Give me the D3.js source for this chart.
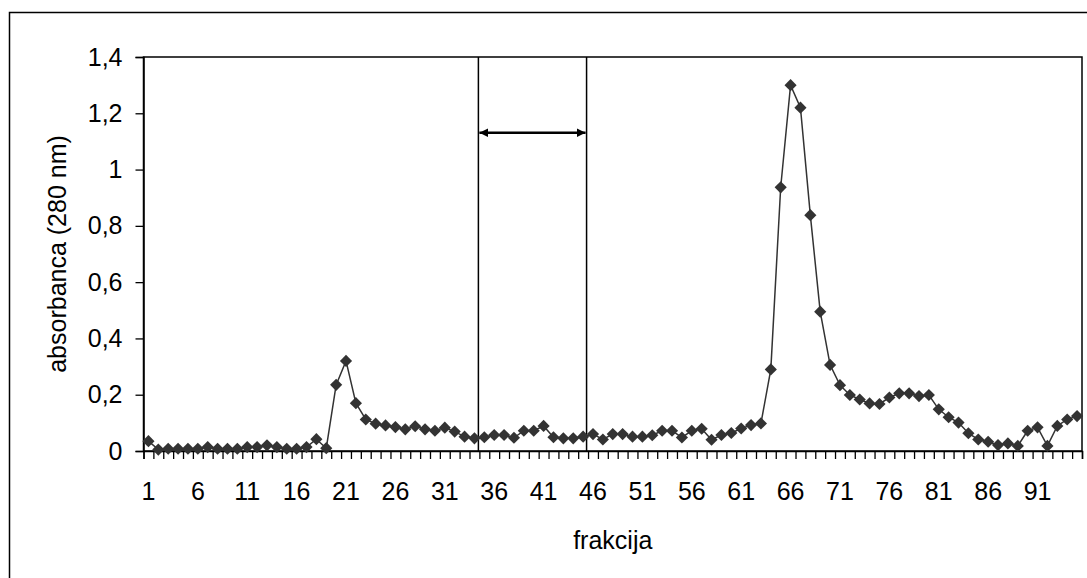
<!DOCTYPE html>
<html>
<head>
<meta charset="utf-8">
<script src="https://cdn.jsdelivr.net/npm/d3@7"></script>
<style>
  body { margin: 0; background: #fff; }
  svg { font-family: "Liberation Sans", Arial, sans-serif; }
</style>
</head>
<body>
<div id="main"><svg width="1087" height="578"></svg></div>
<script>
// Fractions (categories) and absorbance
var fractions = [1,2,3,4,5,6,7,8,9,10,11,12,13,14,15,16,17,18,19,20,
    21,22,23,24,25,26,27,28,29,30,31,32,33,34,35,36,37,38,39,40,
    41,42,43,44,45,46,47,48,49,50,51,52,53,54,55,56,57,58,59,60,
    61,62,63,64,65,66,67,68,69,70,71,72,73,74,75,76,77,78,79,80,
    81,82,83,84,85,86,87,88,89,90,91,92,93,94,95];
var absorbance = [0.035,0.005,0.008,0.008,0.008,0.008,0.014,0.008,0.008,0.008,
    0.014,0.014,0.02,0.014,0.008,0.008,0.014,0.042,0.01,0.235,
    0.32,0.17,0.112,0.097,0.091,0.085,0.077,0.088,0.077,0.072,
    0.083,0.069,0.051,0.045,0.049,0.057,0.057,0.047,0.072,0.072,
    0.089,0.049,0.045,0.045,0.051,0.06,0.041,0.06,0.06,0.051,
    0.051,0.056,0.072,0.072,0.048,0.072,0.079,0.04,0.057,0.064,
    0.08,0.092,0.098,0.29,0.937,1.3,1.22,0.838,0.495,0.306,
    0.234,0.199,0.183,0.169,0.167,0.19,0.205,0.205,0.195,0.199,
    0.148,0.12,0.101,0.063,0.041,0.033,0.021,0.027,0.018,0.072,
    0.084,0.018,0.089,0.112,0.124];
var xTickLabels = [1,6,11,16,21,26,31,36,41,46,51,56,61,66,71,76,81,86,91];
var yTicks = [0,0.2,0.4,0.6,0.8,1,1.2,1.4];
// collected fractions marked by the two vertical lines and the arrow
var markerFractions = [34.4, 45.35];
var arrowLevel = 1.131;

var svg = d3.select("#main").select("svg");
var svgWidth = +svg.attr("width");
var svgHeight = +svg.attr("height");

var margin = {top: 57, left: 143.5, bottom: 127, right: 5};
var width = 1082 - margin.left;
var height = 451 - margin.top;

// outer chart border (only top and left are inside the picture)
svg.append("rect")
    .attr("x", 9.5).attr("y", 12.5)
    .attr("width", 1200).attr("height", 800)
    .attr("fill", "none").attr("stroke", "#000").attr("stroke-width", 1.5);

var g = svg.append("g")
    .attr("transform", "translate(" + margin.left + "," + margin.top + ")");

var xScale = d3.scaleBand().domain(fractions).range([0, width]).padding(0);
var xLin = d3.scaleLinear().domain([0.5, fractions.length + 0.5]).range([0, width]);
var yScale = d3.scaleLinear().domain([0, 1.4]).range([height, 0]);

var fmt = function(d) { return String(+d.toFixed(1)).replace(".", ","); };

// plot area frame
g.append("rect")
    .attr("width", width).attr("height", height)
    .attr("fill", "none").attr("stroke", "#000").attr("stroke-width", 1.5);

// y axis
var yAxis = d3.axisLeft(yScale).tickValues(yTicks).tickFormat(fmt).tickSize(8).tickPadding(13);
var yG = g.append("g").attr("class", "y axis").call(yAxis);

// x axis: tick marks at every category boundary, labels every 5th
var xTicks = d3.axisBottom(xLin)
    .tickValues(fractions.map(function(f) { return f - 0.5; }).concat([fractions.length + 0.5]))
    .tickFormat("").tickSize(8);
var xG = g.append("g").attr("class", "x axis")
    .attr("transform", "translate(0," + height + ")").call(xTicks);

var xLabels = d3.axisBottom(xScale).tickValues(xTickLabels).tickSize(0).tickPadding(31);
var xlG = g.append("g").attr("class", "x labels")
    .attr("transform", "translate(0," + height + ")").call(xLabels);
xlG.select(".domain").remove();

[yG, xG, xlG].forEach(function(a) {
    a.selectAll(".domain").attr("stroke", "#000").attr("stroke-width", 1.5);
    a.selectAll(".tick line").attr("stroke", "#000").attr("stroke-width", 1.3);
    a.selectAll("text").attr("fill", "#000").style("font-size", "25px")
        .style("font-family", "'Liberation Sans', Arial, sans-serif");
});

// marker lines and arrow
markerFractions.forEach(function(f) {
    g.append("line")
        .attr("x1", xLin(f)).attr("x2", xLin(f))
        .attr("y1", 0).attr("y2", height)
        .attr("stroke", "#000").attr("stroke-width", 1.5);
});

var defs = svg.append("defs");
["end", "start"].forEach(function(k) {
    defs.append("marker")
        .attr("id", "arrow-" + k)
        .attr("viewBox", "0 0 10 10")
        .attr("refX", 10).attr("refY", 5)
        .attr("markerWidth", 9).attr("markerHeight", 9)
        .attr("markerUnits", "userSpaceOnUse")
        .attr("orient", k == "end" ? "auto" : "auto-start-reverse")
        .append("path").attr("d", "M0,0L10,5L0,10z").attr("fill", "#000");
});
g.append("line")
    .attr("x1", xLin(markerFractions[0]) + 1).attr("x2", xLin(markerFractions[1]) - 1)
    .attr("y1", yScale(arrowLevel)).attr("y2", yScale(arrowLevel))
    .attr("stroke", "#000").attr("stroke-width", 2.5)
    .attr("marker-start", "url(#arrow-start)")
    .attr("marker-end", "url(#arrow-end)");

// data line and diamond markers
var data = fractions.map(function(f, i) { return {f: f, v: absorbance[i]}; });
var line = d3.line()
    .x(function(d) { return xScale(d.f) + xScale.bandwidth() / 2; })
    .y(function(d) { return yScale(d.v); });

g.append("path").datum(data)
    .attr("d", line)
    .attr("fill", "none").attr("stroke", "#333").attr("stroke-width", 1.5);

var diamond = d3.symbol().type(d3.symbolSquare).size(74);
g.selectAll(".pt").data(data).enter().append("path")
    .attr("class", "pt")
    .attr("d", diamond)
    .attr("transform", function(d) {
        return "translate(" + (xScale(d.f) + xScale.bandwidth() / 2) + "," + yScale(d.v) + ") rotate(45)";
    })
    .attr("fill", "#333");

// axis titles
svg.append("text")
    .attr("transform", "translate(57," + (margin.top + height / 2) + ") rotate(-90)")
    .attr("text-anchor", "middle")
    .attr("dy", "0.35em")
    .style("font-size", "25px")
    .text("absorbanca (280 nm)");

svg.append("text")
    .attr("x", margin.left + width / 2)
    .attr("y", 549)
    .attr("text-anchor", "middle")
    .style("font-size", "25px")
    .text("frakcija");
</script>
</body>
</html>
